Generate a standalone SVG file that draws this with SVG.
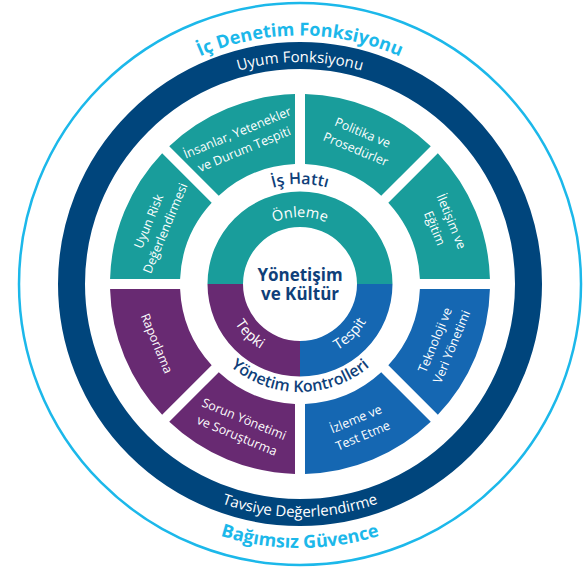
<svg xmlns="http://www.w3.org/2000/svg" width="583" height="573" viewBox="0 0 583 573">
<style>
.teal{fill:#199d9b}
.purple{fill:#682a72}
.blue{fill:#1567b2}
.f{font-family:"Open Sans","Liberation Sans",sans-serif}
.seg{font-size:12.5px;font-weight:500;fill:#fff;text-anchor:middle}
.ring{font-size:15px;font-weight:500;fill:#fff;text-anchor:middle}
.title{font-weight:700;font-size:18px;fill:#1cb8ea;text-anchor:middle}
.lbl{font-weight:600;font-size:16px;fill:#0f3f7a;text-anchor:middle}
.inner{font-size:14.5px;font-weight:500;fill:#fff;text-anchor:middle}
.core{font-weight:700;font-size:17px;fill:#0f3f7a;text-anchor:middle}
</style>
<defs>
<path id="seg" d="M305,94.07 A190,190 0 0 1 430.77,146.16 L381.24,195.68 A120,120 0 0 0 305,164.10 Z"/>
<path id="pTitleTop" d="M51.5,284 A248.5,248.5 0 0 1 548.5,284"/>
<path id="pUyum" d="M78,284 A222,222 0 0 1 522,284"/>
<path id="pTavsiye" d="M67,284 A233,233 0 0 0 533,284"/>
<path id="pBagimsiz" d="M36,284 A264,264 0 0 0 564,284"/>
<path id="pIs" d="M200,284 A100,100 0 0 1 400,284"/>
<path id="pYonetim" d="M192,284 A108,108 0 0 0 408,284"/>
<path id="pOnleme" d="M233,284 A67,67 0 0 1 367,284"/>
<path id="pInnerBottom" d="M224,284 A76,76 0 0 0 376,284"/>
</defs>
<rect width="583" height="573" fill="#fff"/>

<g id="ic-denetim">
<circle cx="300" cy="284" r="281" fill="none" stroke="#1cb8ea" stroke-width="2.5"/>
<text class="f title"><textPath href="#pTitleTop" startOffset="50%">İç Denetim Fonksiyonu</textPath></text>
<text class="f title"><textPath href="#pBagimsiz" startOffset="50%">Bağımsız Güvence</textPath></text>
</g>

<g id="uyum-fonksiyonu">
<circle cx="300" cy="284" r="228.5" fill="none" stroke="#00457c" stroke-width="27"/>
<text class="f ring"><textPath href="#pUyum" startOffset="50%">Uyum Fonksiyonu</textPath></text>
<text class="f ring"><textPath href="#pTavsiye" startOffset="50%">Tavsiye Değerlendirme</textPath></text>
</g>

<g id="politika">
<use href="#seg" class="teal"/>
<g transform="rotate(22.5 300 284)"><text class="f seg" x="300" y="124.5">Politika ve</text><text class="f seg" x="300" y="142.5">Prosedürler</text></g>
</g>
<g id="iletisim">
<use href="#seg" class="teal" transform="rotate(45 300 284)"/>
<g transform="rotate(67.5 300 284)"><text class="f seg" x="300" y="124.5">İletişim ve</text><text class="f seg" x="300" y="142.5">Eğitim</text></g>
</g>
<g id="teknoloji">
<use href="#seg" class="blue" transform="rotate(90 300 284)"/>
<g transform="rotate(-67.5 300 284)"><text class="f seg" x="300" y="434.5">Teknoloji ve</text><text class="f seg" x="300" y="452.5">Veri Yönetimi</text></g>
</g>
<g id="izleme">
<use href="#seg" class="blue" transform="rotate(135 300 284)"/>
<g transform="rotate(-22.5 300 284)"><text class="f seg" x="300" y="434.5">İzleme ve</text><text class="f seg" x="300" y="452.5">Test Etme</text></g>
</g>
<g id="sorun">
<use href="#seg" class="purple" transform="rotate(180 300 284)"/>
<g transform="rotate(22.5 300 284)"><text class="f seg" x="300" y="434.5">Sorun Yönetimi</text><text class="f seg" x="300" y="452.5">ve Soruşturma</text></g>
</g>
<g id="raporlama">
<use href="#seg" class="purple" transform="rotate(225 300 284)"/>
<g transform="rotate(67.5 300 284)"><text class="f seg" x="300" y="443.5">Raporlama</text></g>
</g>
<g id="uyum-risk">
<use href="#seg" class="teal" transform="rotate(270 300 284)"/>
<g transform="rotate(-67.5 300 284)"><text class="f seg" x="300" y="124.5">Uyun Risk</text><text class="f seg" x="300" y="142.5">Değerlendirmesi</text></g>
</g>
<g id="insanlar">
<use href="#seg" class="teal" transform="rotate(315 300 284)"/>
<g transform="rotate(-22.5 300 284)"><text class="f seg" x="300" y="124.5">İnsanlar, Yetenekler</text><text class="f seg" x="300" y="142.5">ve Durum Tespiti</text></g>
</g>

<g id="is-hatti">
<text class="f lbl"><textPath href="#pIs" startOffset="50%">İş Hattı</textPath></text>
</g>
<g id="yonetim-kontrolleri">
<text class="f lbl"><textPath href="#pYonetim" startOffset="50%">Yönetim Kontrolleri</textPath></text>
</g>

<g id="onleme">
<path class="teal" d="M207.5,284 A92.5,92.5 0 0 1 392.5,284 L357,284 A57,57 0 0 0 243,284 Z"/>
<text class="f inner"><textPath href="#pOnleme" startOffset="50%">Önleme</textPath></text>
</g>
<g id="tepki">
<path class="purple" d="M207.5,284 L243,284 A57,57 0 0 0 300,341 L300,376.5 A92.5,92.5 0 0 1 207.5,284 Z"/>
<text class="f inner"><textPath href="#pInnerBottom" startOffset="25%">Tepki</textPath></text>
</g>
<g id="tespit">
<path class="blue" d="M300,376.5 L300,341 A57,57 0 0 0 357,284 L392.5,284 A92.5,92.5 0 0 1 300,376.5 Z"/>
<text class="f inner"><textPath href="#pInnerBottom" startOffset="75%">Tespit</textPath></text>
</g>

<g id="yonetisim">
<text class="f core" x="300" y="281">Yönetişim</text>
<text class="f core" x="300" y="300">ve Kültür</text>
</g>
</svg>
